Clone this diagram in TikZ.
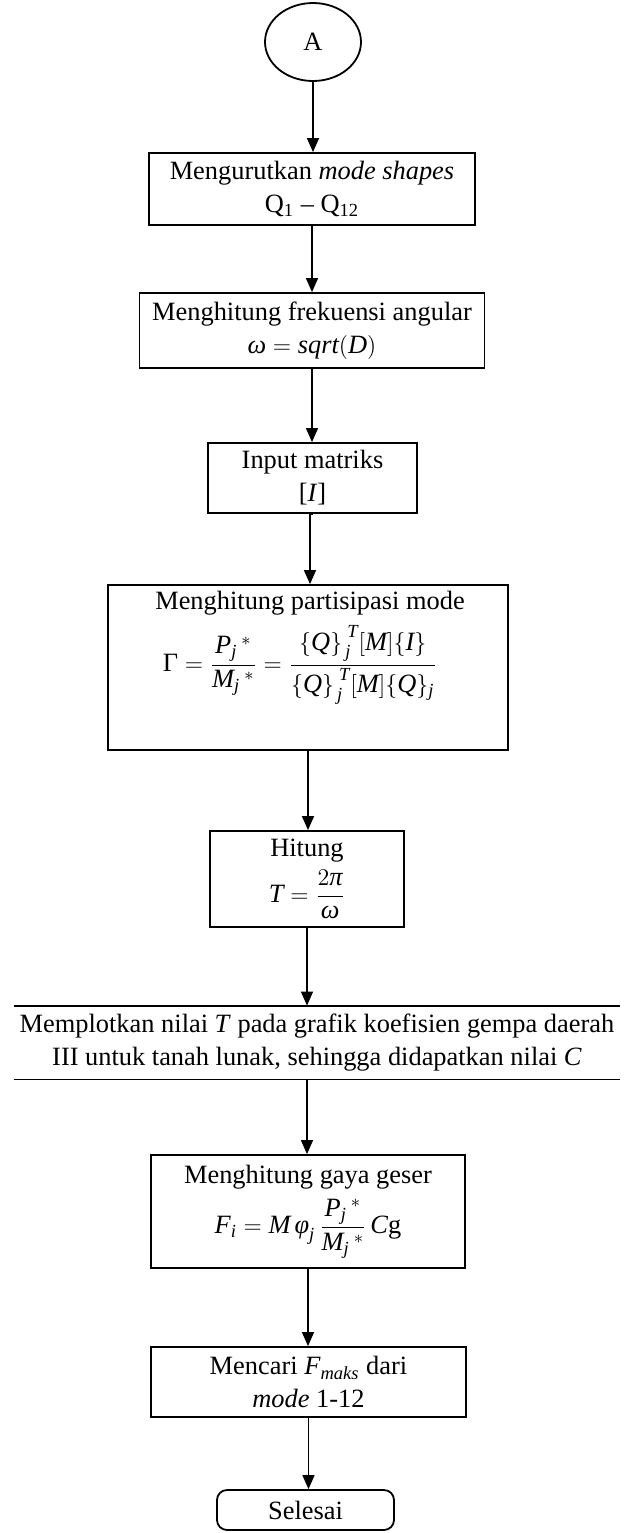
\documentclass[tikz,border=0pt]{standalone}
\usepackage{amsmath}
\usepackage{fontspec}
\setmainfont{Liberation Serif}
\usetikzlibrary{shapes.geometric,arrows.meta}
\newcommand\vi[1]{\text{\itshape #1}}
\newcommand\supT{^{\raisebox{2pt}{$\scriptstyle\hspace{2.5pt}\vi{T}$}}}
\newcommand\subJ{_{\hspace{1.5pt}\vi{j}}}
\begin{document}
\begin{tikzpicture}[x=0.5pt,y=-0.5pt,
  every node/.style={font=\fontsize{13.2}{16.5}\selectfont, align=center, inner sep=1pt},
  box/.style={draw, line width=0.9pt, rectangle},
  arr/.style={line width=0.7pt, -{Triangle[width=6pt,length=7pt]}}]
\useasboundingbox (0,0) rectangle (631,1533);

\node[draw, line width=0.9pt, ellipse, minimum width=48pt, minimum height=39pt, inner sep=0pt] (A) at (313,42) {A};

\node[box, minimum width=163pt, minimum height=36pt] (b1) at (312,189)
  {Mengurutkan \textit{mode shapes}\\ Q\textsubscript{1} -- Q\textsubscript{12}};

\node[box, minimum width=172.5pt, minimum height=37.5pt] (b2) at (312,330.5)
  {Menghitung frekuensi angular\\ $\vi{ω} = \vi{sqrt}(\vi{D})$};

\node[box, minimum width=104.5pt, minimum height=35pt] (b3) at (312.5,478)
  {Input matriks\\ {[}\textit{I}{]}};

\node[box, minimum width=200pt, minimum height=82.5pt] (b4) at (308,667.5) {};
\node[anchor=north] (b4t) at (310,589) {Menghitung partisipasi mode};
\node (b4f) at (300,665)
  {$\text{Γ} = \dfrac{\vi{P}_{\vi{j}}\,{}^{*}}{\vi{M}_{\vi{j}}\,{}^{*}}
   = \dfrac{\{\vi{Q}\}\supT\subJ[\vi{M}]\{\vi{I}\}}{\{\vi{Q}\}\supT\subJ[\vi{M}]\{\vi{Q}\}_{\vi{j}}}$};

\node[box, minimum width=97pt, minimum height=48pt] (b5) at (307,879)
  {Hitung\\[3pt] $\vi{T} = \dfrac{2\vi{π}}{\vi{ω}}$};

\node[minimum width=303pt, minimum height=36.5pt, inner sep=0pt] (w) at (317,1042.5)
  {Memplotkan nilai \textit{T} pada grafik koefisien gempa daerah\\ III untuk tanah lunak, sehingga didapatkan nilai \textit{C}};
\draw[line width=0.9pt] (w.north west) -- (w.north east);
\draw[line width=0.9pt] (w.south west) -- (w.south east);

\node[box, minimum width=157pt, minimum height=56.5pt] (b6) at (308,1211.5)
  {Menghitung gaya geser\\[4pt] $\vi{F}_{\vi{i}} = \vi{M}\,\vi{φ}_{\vi{j}}\,\dfrac{\vi{P}_{\vi{j}}\,{}^{*}}{\vi{M}_{\vi{j}}\,{}^{*}}\,\vi{C}\text{g}$};

\node[box, minimum width=157.5pt, minimum height=35pt] (b7) at (308.5,1382)
  {Mencari \textit{F}\textsubscript{\textit{maks}} dari\\ \textit{mode} 1-12};

\node[draw, line width=0.9pt, rounded corners=5pt, minimum width=88.5pt, minimum height=20pt] (end) at (305.5,1510)
  {Selesai};

\draw[arr] (A.south) -- (A.south |- b1.north);
\draw[arr] (b1.south) -- (b1.south |- b2.north);
\draw[arr] (b2.south) -- (b2.south |- b3.north);
\draw[arr] (b3.south) -- (b3.south -| b4t.north) -- (b4.north -| b4t.north);
\draw[arr] (b4.south) -- (b4.south |- b5.north);
\draw[arr] (b5.south) -- (b5.south |- w.north);
\draw[arr] (b5.south |- w.south) -- (b5.south |- b6.north);
\draw[arr] (b6.south) -- (b6.south |- b7.north);
\draw[arr] (b7.south) -- (b7.south |- end.north);
\end{tikzpicture}
\end{document}
